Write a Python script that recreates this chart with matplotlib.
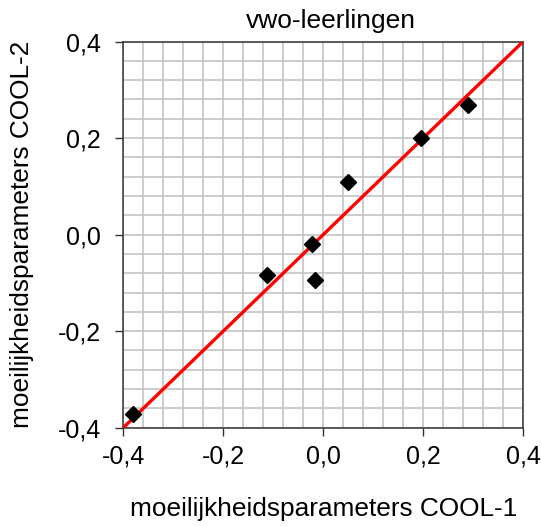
import numpy as np
import matplotlib
matplotlib.use("Agg")
import matplotlib.pyplot as plt
from matplotlib.ticker import MultipleLocator, FuncFormatter

# values
cool1 = [-0.38, -0.113, -0.017, -0.023, 0.05, 0.195, 0.29]
cool2 = [-0.372, -0.084, -0.095, -0.02, 0.11, 0.20, 0.269]
line_x = [-0.4, 0.4]
line_y = [-0.4, 0.4]

plt.rcParams["font.family"] = ["Liberation Sans", "DejaVu Sans"]

fig = plt.figure(figsize=(5.41, 5.26), dpi=100)
ax = fig.add_axes([0.228, 0.187, 0.739, 0.734])

ax.plot(line_x, line_y, color="#ff0000", lw=2.4, zorder=3)
ax.plot(cool1, cool2, linestyle="", marker="D", markersize=8,
        color="black", zorder=4)

ax.set_xlim(-0.4, 0.4)
ax.set_ylim(-0.4, 0.4)

fmt = FuncFormatter(lambda v, p: f"{v:.1f}".replace(".", ",").replace("-0,0", "0,0"))
for axis in (ax.xaxis, ax.yaxis):
    axis.set_major_locator(MultipleLocator(0.2))
    axis.set_minor_locator(MultipleLocator(0.04))
    axis.set_major_formatter(fmt)

ax.grid(which="both", color="#c4c4c4", lw=1.2, zorder=0)
ax.set_axisbelow(True)
ax.tick_params(which="major", direction="out", length=6, width=1, color="#333333",
               labelsize=18)
ax.tick_params(axis="y", pad=10)
ax.tick_params(axis="x", pad=6)
ax.tick_params(which="minor", length=0)
for s in ax.spines.values():
    s.set_color("#333333")
    s.set_linewidth(1.1)

ax.set_title("vwo-leerlingen", fontsize=19, pad=10, x=0.519)
ax.set_xlabel("moeilijkheidsparameters COOL-1", fontsize=18.9, va="center")
ax.set_ylabel("moeilijkheidsparameters COOL-2", fontsize=18.9, va="center")
ax.xaxis.set_label_coords(0.5, -0.211)
ax.yaxis.set_label_coords(-0.253, 0.5)

fig.savefig("out.png", dpi=100)
